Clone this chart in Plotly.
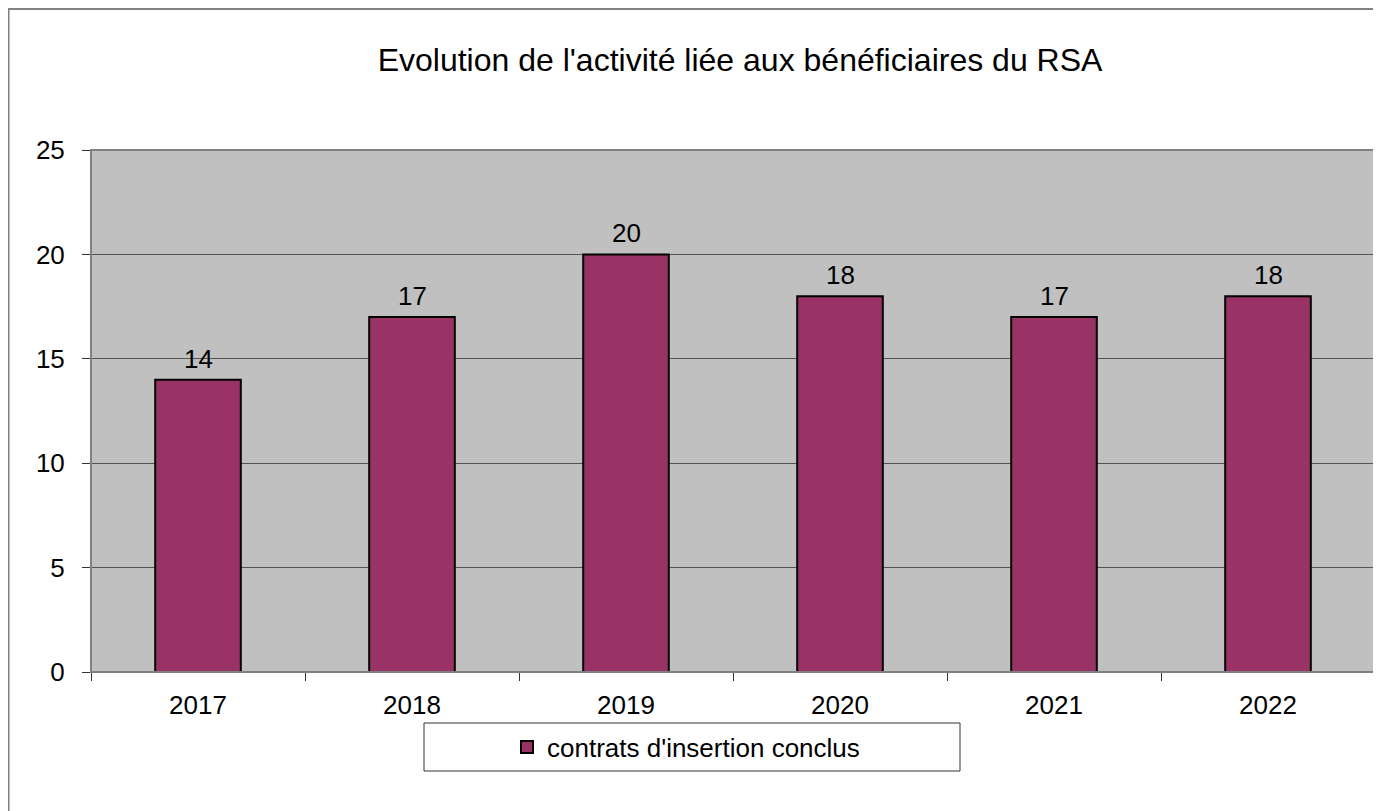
import plotly.graph_objects as go

# data
years = ["2017", "2018", "2019", "2020", "2021", "2022"]
contrats = [14, 17, 20, 18, 17, 18]
series_name = "contrats d'insertion conclus"
chart_title = "Evolution de l'activité liée aux bénéficiaires du RSA"
y_ticks = [0, 5, 10, 15, 20, 25]

# the page body has an 8px margin, so figure px = screen px - 8
OFF = 8
W, H = 1381 - OFF, 811 - OFF
L, R, T, B = 91 - OFF, 6, 150 - OFF, 811 - 672  # plot area on screen: x 91..1375, y 150..672
pw, ph = W - L - R, H - T - B


def px_x(sx):
    return (sx - OFF - L) / pw


def px_y(sy):
    return (H - B - (sy - OFF)) / ph


font = "Liberation Sans, Arial, sans-serif"

fig = go.Figure()
fig.add_trace(go.Bar(
    x=years, y=contrats, name=series_name, width=0.4,
    marker=dict(color="#993366", line=dict(color="black", width=2)),
    showlegend=True,
))

# value labels above the bars (category index for annotation x)
for i, v in enumerate(contrats):
    fig.add_annotation(x=i, y=v, text=str(v), showarrow=False,
                       yanchor="bottom", yshift=4,
                       font=dict(family=font, size=26, color="black"))

# outer chart frame
fig.add_shape(type="rect", xref="paper", yref="paper",
              x0=px_x(8.5), x1=px_x(1392), y0=px_y(830), y1=px_y(9),
              line=dict(color="#808080", width=2), layer="below")
# plot area frame
fig.add_shape(type="rect", xref="paper", yref="paper",
              x0=0, x1=1, y0=0, y1=1,
              line=dict(color="#808080", width=2), layer="above")
# legend box
fig.add_shape(type="rect", xref="paper", yref="paper",
              x0=px_x(424), x1=px_x(960), y0=px_y(771), y1=px_y(723),
              line=dict(color="#333333", width=1), fillcolor="white")

fig.update_layout(
    width=W, height=H,
    margin=dict(l=L, r=R, t=T, b=B),
    paper_bgcolor="white", plot_bgcolor="#C0C0C0",
    font=dict(family=font, size=26, color="black"),
    title=dict(text=chart_title, xref="paper", x=px_x(740), xanchor="center",
               y=1 - (60 - OFF) / H, yanchor="middle",
               font=dict(family=font, size=32, color="black")),
    showlegend=True,
    legend=dict(x=px_x(507), xanchor="left", y=px_y(747), yanchor="middle",
                bgcolor="rgba(0,0,0,0)", borderwidth=0,
                font=dict(family=font, size=26, color="black")),
)
fig.update_xaxes(type="category", range=[-0.5, len(years) - 0.5],
                 showgrid=False, showline=True,
                 linecolor="#333333", linewidth=1,
                 ticks="outside", ticklen=8, tickcolor="#333333",
                 tickson="boundaries", tickangle=0, ticklabelstandoff=10,
                 tickfont=dict(family=font, size=26, color="black"))
fig.update_yaxes(range=[0, 25], tickvals=y_ticks, showgrid=True,
                 gridcolor="#555555", gridwidth=1, zeroline=False,
                 showline=True, linecolor="#333333", linewidth=1,
                 ticks="outside", ticklen=8, tickcolor="#333333",
                 ticklabelstandoff=12,
                 tickfont=dict(family=font, size=26, color="black"))

fig.write_html("out.html")
